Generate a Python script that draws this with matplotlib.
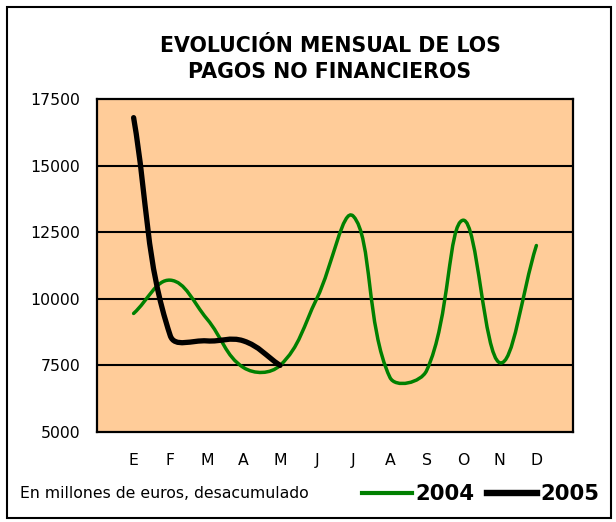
import matplotlib
matplotlib.use('Agg')
import matplotlib.pyplot as plt
import numpy as np
from matplotlib.path import Path
from matplotlib.patches import PathPatch, Rectangle
from matplotlib.lines import Line2D

# ---- data ----
months = ['E', 'F', 'M', 'A', 'M', 'J', 'J', 'A', 'S', 'O', 'N', 'D']
pagos_2004 = [9450, 10700, 9250, 7420, 7500, 10000, 13100, 7050, 7300, 12950, 7600, 12000]
pagos_2005 = [16800, 8620, 8420, 8420, 7500]
yticks = [5000, 7500, 10000, 12500, 15000, 17500]
title = 'EVOLUCIÓN MENSUAL DE LOS\nPAGOS NO FINANCIEROS'
note = 'En millones de euros, desacumulado'
series_labels = ['2004', '2005']

plt.rcParams['font.family'] = ['DejaVu Sans']

W, H = 616, 522
fig = plt.figure(figsize=(W / 100, H / 100), dpi=100)
ax = fig.add_axes([97 / W, 1 - 432 / H, 476 / W, 333 / H])
ax.set_xlim(-1, 12)
ax.set_ylim(yticks[0], yticks[-1])
ax.set_facecolor('#FFCC99')

for y in yticks[1:-1]:
    ax.axhline(y, color='black', lw=1.5, zorder=1)

for sp in ax.spines.values():
    sp.set_color('black')
    sp.set_linewidth(1.6)

x_idx = np.arange(len(months))
ax.set_xticks(x_idx)
ax.set_xticklabels(months)
ax.set_yticks(yticks)
ax.set_yticklabels([str(v) for v in yticks])
ax.tick_params(axis='y', length=0, pad=12, labelsize=11.3)
ax.tick_params(axis='x', length=0, pad=15, labelsize=11.3)


def smooth_path(xs, ys, k=1 / 2.5):
    """Smoothed line (chord-length scaled Catmull-Rom Bezier, in screen space)."""
    pts = ax.transData.transform(np.column_stack([xs, ys]))
    n = len(pts)
    verts = [pts[0]]
    codes = [Path.MOVETO]
    for i in range(n - 1):
        p0 = pts[i - 1] if i > 0 else pts[i]
        p1 = pts[i]
        p2 = pts[i + 1]
        p3 = pts[i + 2] if i + 2 < n else pts[i + 1]
        d01 = np.hypot(*(p1 - p0))
        d12 = np.hypot(*(p2 - p1))
        d23 = np.hypot(*(p3 - p2))
        c1 = p1 + (p2 - p0) * d12 * k / (d01 + d12)
        c2 = p2 - (p3 - p1) * d12 * k / (d12 + d23)
        verts += [c1, c2, p2]
        codes += [Path.CURVE4] * 3
    data = ax.transData.inverted().transform(np.array(verts))
    return Path(data, codes)


p04 = PathPatch(smooth_path(x_idx, pagos_2004), fill=False, edgecolor='#008000',
                lw=2.5, capstyle='round', joinstyle='round', zorder=3)
ax.add_patch(p04)
p05 = PathPatch(smooth_path(x_idx[:len(pagos_2005)], pagos_2005), fill=False,
                edgecolor='black', lw=3.8, capstyle='round', joinstyle='round', zorder=4)
ax.add_patch(p05)

# title
fig.text(330 / W, 1 - 59 / H, title, ha='center', va='center', fontsize=14.8,
         fontweight='bold', linespacing=1.35)

# note
fig.text(20 / W, 1 - 494 / H, note, ha='left', va='center', fontsize=11.3)

# legend
h04 = Line2D([], [], color='#008000', lw=3.0)
h05 = Line2D([], [], color='black', lw=4.6)
fig.legend([h04, h05], series_labels, loc='center left',
           bbox_to_anchor=(362 / W, 1 - 494 / H), ncol=2, frameon=False,
           borderpad=0, borderaxespad=0, handlelength=2.35, handletextpad=0.15,
           columnspacing=0.6, prop={'weight': 'bold', 'size': 15.3})

# outer border
fig.add_artist(Rectangle((7 / W, 1 - 518 / H), 604 / W, 511 / H, fill=False,
                         edgecolor='black', lw=1.5, transform=fig.transFigure))

fig.savefig('out.png', dpi=100)
